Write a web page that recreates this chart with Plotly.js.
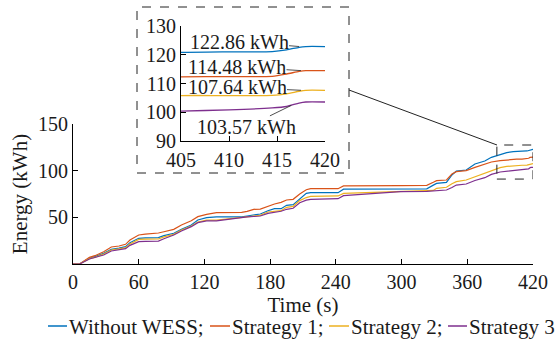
<!DOCTYPE html>
<html>
<head>
<meta charset="utf-8">
<script src="https://cdn.plot.ly/plotly-3.0.1.min.js"></script>
<style>html,body{margin:0;padding:0;background:#fff;}#chart{width:557px;height:345px;}</style>
</head>
<body>
<div id="chart"></div>
<script>
const seriesNames = ["Without WESS;", "Strategy 1;", "Strategy 2;", "Strategy 3"];
const time = [0, 6, 15, 20, 28, 35, 42, 48, 52, 60, 66, 78, 83, 92, 99, 108, 114, 122, 131, 154, 159, 165, 171, 178, 184, 190, 195, 201, 207, 213, 217, 242, 247, 299, 323, 329, 332, 341, 346, 350, 359, 367, 376, 382, 390, 396, 402, 405, 410, 414.5, 416, 417.3, 418, 420];
const withoutWESS = [0, 0, 6.4, 7.9, 11.4, 15.7, 17.1, 18.6, 22.9, 27.5, 28, 28.2, 30.4, 32.9, 37.1, 41.8, 47.1, 49.6, 50.4, 50.4, 51.4, 52.9, 53.6, 57.1, 59.3, 59.3, 62.9, 63.6, 70, 75.7, 76.4, 76.4, 80.2, 80.3, 80.5, 84.5, 86.4, 87.5, 95.4, 99.6, 100.7, 107.1, 110.4, 114.3, 117, 119.3, 120.3, 120.8, 121, 121.1, 121.7, 122.6, 122.86, 122.86];
const strategy1 = [0, 0, 7.1, 8.9, 13.2, 18.2, 19.3, 21.1, 25.7, 31.1, 32.1, 33.2, 34.6, 37.1, 41.8, 46.4, 50.7, 53.2, 55, 55.4, 56.4, 58.6, 58.9, 62.1, 64.3, 66, 68.6, 69.3, 75, 79.6, 80.7, 80.7, 83.6, 84, 84.3, 87.5, 89.3, 90, 96.4, 98.9, 100, 103.5, 106.5, 109.3, 110.7, 111.5, 112.1, 112.3, 112.4, 112.5, 113.3, 114.2, 114.48, 114.48];
const strategy2 = [0, 0, 5.7, 7, 10.7, 15, 16.3, 17.5, 21.4, 26.4, 26.6, 26.8, 29, 31.8, 36.4, 40.7, 45, 47.1, 47.1, 50, 50.7, 51.4, 52.1, 55.7, 56.8, 57.1, 60.7, 61.8, 67.9, 71.2, 72.5, 72.9, 75.7, 77.8, 78.3, 78.8, 81.1, 82.2, 86, 88.2, 90, 93.6, 97.1, 99.5, 103.2, 104.5, 105.2, 105.8, 105.8, 105.9, 106.4, 107.3, 107.64, 107.64];
const strategy3 = [0, 0, 5.4, 6.8, 9.6, 13.9, 15.2, 16.4, 20, 23.9, 24.2, 24.6, 27, 31.1, 35.4, 40, 44.3, 46.1, 46.3, 50, 50.4, 50.9, 51.4, 54.3, 55, 56.5, 58.6, 59.7, 65.7, 68.4, 69.3, 70, 73.2, 77.5, 77.8, 78.2, 78.4, 79.3, 82, 84.6, 85.7, 89.5, 92.5, 96, 98.6, 99.3, 99.8, 100.4, 100.8, 101.5, 102, 103.2, 103.57, 103.57];
const finalLabels = ["122.86 kWh", "114.48 kWh", "107.64 kWh", "103.57 kWh"];
const xTicks = [0, 60, 120, 180, 240, 300, 360, 420];
const yTicks = [50, 100, 150];
const insetXTicks = [405, 410, 415, 420];
const insetYTicks = [90, 100, 110, 120, 130];

const colors = ["#0072BD", "#D95319", "#EDB120", "#7E2F8E"];
const allSeries = [withoutWESS, strategy1, strategy2, strategy3];
const W = 557, H = 345;
const FONT = "Liberation Serif";
const TXT = "#1a1a1a";

const traces = [];
allSeries.forEach((s, i) => {
  traces.push({x: time, y: s, type: "scatter", mode: "lines", name: seriesNames[i], showlegend: false,
    line: {color: colors[i], width: 1.2}, xaxis: "x", yaxis: "y", hoverinfo: "skip"});
});
allSeries.forEach((s, i) => {
  traces.push({x: time, y: s, type: "scatter", mode: "lines", showlegend: false,
    line: {color: colors[i], width: 1.3, shape: "spline", smoothing: 0.6}, xaxis: "x2", yaxis: "y2", hoverinfo: "skip"});
});

const px = v => v / W, py = v => 1 - v / H;

const axisCommon = {showgrid: false, zeroline: false, showline: true, linecolor: "#000", linewidth: 1,
  ticks: "inside", ticklen: 5, tickcolor: "#000", mirror: false, tickfont: {family: FONT, size: 20, color: TXT}};

const labelOffsets = [[-60, -5], [-64, -4], [-64, -3], [-45, 22]];
const labelX = [417.3, 417.5, 417.5, 416.5];
const labelY = [122.86, 114.48, 107.64, 102.4];

const annotations = finalLabels.map((t, i) => ({
  text: t, xref: "x2", yref: "y2", x: labelX[i], y: labelY[i], ax: labelOffsets[i][0], ay: labelOffsets[i][1],
  showarrow: true, arrowhead: 0, arrowwidth: 0.8, arrowcolor: "#222",
  font: {family: FONT, size: 20, color: TXT}, bgcolor: "rgba(0,0,0,0)", borderpad: 0
}));

// hand-placed one-line legend (short line + label), like the reference
const legendLineX = [[48, 67], [210, 230], [329, 349], [448, 467]];
const legendY = 327;
const legendShapes = [];
seriesNames.forEach((n, i) => {
  annotations.push({text: n, xref: "paper", yref: "paper", x: px(legendLineX[i][1] + 1), y: py(legendY),
    xanchor: "left", yanchor: "middle", showarrow: false, font: {family: FONT, size: 21, color: TXT}, borderpad: 0});
  legendShapes.push({type: "line", xref: "paper", yref: "paper", x0: px(legendLineX[i][0]), x1: px(legendLineX[i][1]),
    y0: py(legendY - 1), y1: py(legendY - 1), line: {color: colors[i], width: 1.5}});
});

const layout = {
  width: W, height: H,
  margin: {l: 0, r: 0, t: 0, b: 0},
  paper_bgcolor: "#fff", plot_bgcolor: "rgba(0,0,0,0)",
  font: {family: FONT, size: 20, color: TXT},
  xaxis: Object.assign({}, axisCommon, {domain: [px(73), px(533)], range: [0, 420], tickvals: xTicks, anchor: "y",
    title: {text: "Time (s)", font: {family: FONT, size: 21, color: TXT}, standoff: 0}}),
  yaxis: Object.assign({}, axisCommon, {domain: [py(264), py(124)], range: [0, 150], tickvals: yTicks, anchor: "x",
    title: {text: "Energy (kWh)", font: {family: FONT, size: 21, color: TXT}, standoff: 4}}),
  xaxis2: Object.assign({}, axisCommon, {domain: [px(181), px(325)], range: [405, 420], tickvals: insetXTicks, anchor: "y2",
    tickfont: {family: FONT, size: 20, color: TXT}, ticklabelstandoff: 1}),
  yaxis2: Object.assign({}, axisCommon, {domain: [py(141), py(26)], range: [90, 130], tickvals: insetYTicks, anchor: "x2",
    tickfont: {family: FONT, size: 20, color: TXT}, ticklabelstandoff: 0}),
  showlegend: false,
  annotations: annotations,
  shapes: [
    {type: "rect", xref: "paper", yref: "paper", x0: px(137), x1: px(349), y0: py(173), y1: py(7),
      line: {color: "#222", width: 1, dash: "dash"}, fillcolor: "rgba(0,0,0,0)", layer: "below"},
    {type: "rect", xref: "x", yref: "y", x0: 387, x1: 420, y0: 91, y1: 127.5,
      line: {color: "#222", width: 1, dash: "dash"}},
    {type: "line", xref: "paper", yref: "paper", x0: px(349), y0: py(90), x1: px(497), y1: py(145),
      line: {color: "#222", width: 1}}
  ].concat(legendShapes)
};

Plotly.newPlot("chart", traces, layout, {staticPlot: true, displayModeBar: false});
</script>
</body>
</html>
